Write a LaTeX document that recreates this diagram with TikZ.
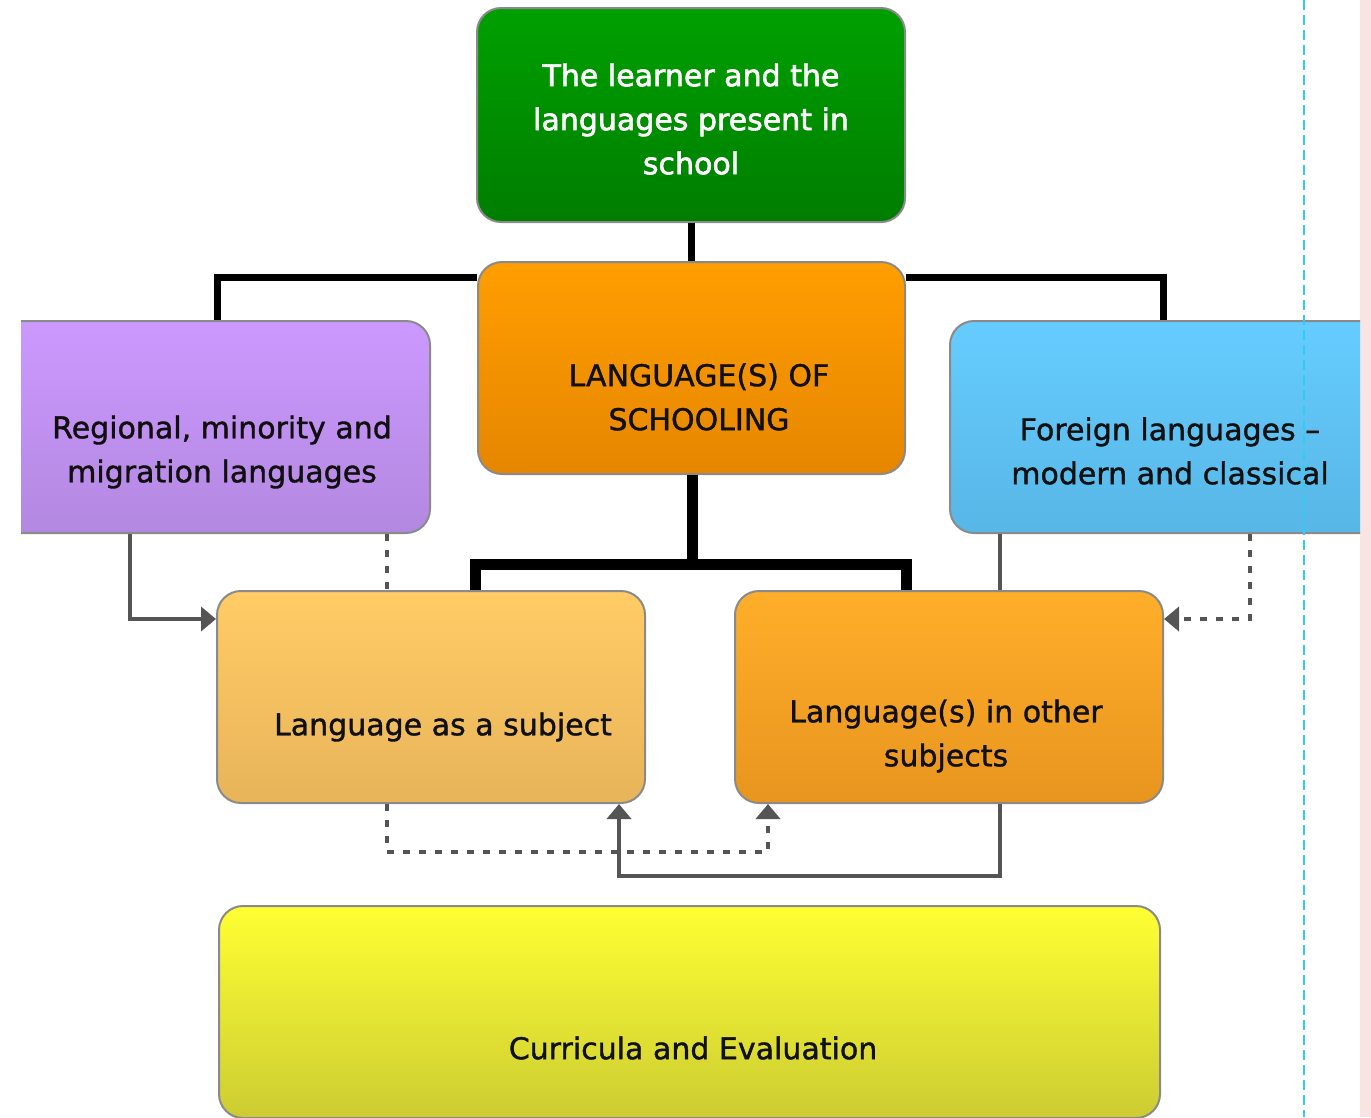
\documentclass[tikz,border=0pt]{standalone}
\usepackage{fontspec}
\setmainfont{DejaVu Sans}
\newfontfamily\boldish[FakeBold=1.2]{DejaVu Sans}
\newfontfamily\heavyish[FakeBold=2]{DejaVu Sans}
\usetikzlibrary{arrows.meta}
\definecolor{gtop}{HTML}{00A000}\definecolor{gbot}{HTML}{007D00}
\definecolor{stop}{HTML}{FF9E00}\definecolor{sbot}{HTML}{E68600}
\definecolor{ptop}{HTML}{CC99FF}\definecolor{pbot}{HTML}{B388E0}
\definecolor{btop}{HTML}{66CCFF}\definecolor{bbot}{HTML}{57B7E6}
\definecolor{ltop}{HTML}{FFCC66}\definecolor{lbot}{HTML}{E8B45A}
\definecolor{otop}{HTML}{FFAE2A}\definecolor{obot}{HTML}{E8951F}
\definecolor{ytop}{HTML}{FFFF33}\definecolor{ybot}{HTML}{CCCC33}
\definecolor{boxline}{HTML}{8A8A8A}
\definecolor{conngray}{HTML}{555555}
\definecolor{guide}{HTML}{33CCEE}
\definecolor{strip}{HTML}{F9E3E3}
\definecolor{txt}{HTML}{101010}
\begin{document}
\begin{tikzpicture}[x=1pt,y=-1pt,
  box/.style={rectangle, rounded corners=24pt, draw=boxline, line width=2pt, inner sep=0pt},
  label/.style={align=center, inner sep=0pt, text=txt, font=\boldish\fontsize{30}{44}\selectfont},
  connA/.style={line width=7pt, black, line join=miter},
  connB/.style={line width=11pt, black, line join=miter},
  gline/.style={line width=4.5pt, conngray, line join=miter},
  gtip/.style={-{Triangle[length=15pt,width=24pt]}},
  gdot/.style={line width=4pt, conngray, dash pattern=on 7pt off 9pt}
]
\useasboundingbox (0,0) rectangle (1371,1117);
\fill[white] (0,0) rectangle (1371,1117);
\fill[strip] (1360,0) rectangle (1371,1117);
\begin{scope}
\clip (21,0) rectangle (1360,1117);
% boxes
\node[box, top color=gtop, bottom color=gbot, minimum width=428pt, minimum height=214pt] (green) at (691,115) {};
\node[box, top color=stop, bottom color=sbot, minimum width=427pt, minimum height=212pt] (school) at (691.5,368) {};
\node[box, top color=ptop, bottom color=pbot, minimum width=470pt, minimum height=212pt] (purple) at (195,427) {};
\node[box, top color=btop, bottom color=bbot, minimum width=450pt, minimum height=212pt] (blue) at (1175,427) {};
\node[box, top color=ltop, bottom color=lbot, minimum width=428pt, minimum height=212pt] (subj) at (431,697) {};
\node[box, top color=otop, bottom color=obot, minimum width=428pt, minimum height=212pt] (other) at (949,697) {};
\node[box, top color=ytop, bottom color=ybot, minimum width=941pt, minimum height=212pt] (yellow) at (689.5,1012) {};
% texts
\node[label, text=white, font=\heavyish\fontsize{30}{44}\selectfont] (greenT) at (691,119) {The learner and the\\languages present in\\school};
\node[label] (schoolT) at (699,397) {LANGUAGE(S) OF\\SCHOOLING};
\node[label] (purpleT) at (222,452) {Regional, minority and\\migration languages};
\node[label] (blueT) at (1170,451) {Foreign languages –\\modern and classical};
\node[label] (subjT) at (443,727) {Language as a subject};
\node[label] (otherT) at (946,736) {Language(s) in other\\subjects};
\node[label] (yellowT) at (693,1048) {Curricula and Evaluation};
% black connectors
\coordinate (jL) at (217,277);
\coordinate (jR) at (1163,277);
\draw[connA] (green.south) -- (school.north -| green.south);
\draw[connA] (school.west |- jL) -- (jL) -- (jL |- purple.north);
\draw[connA] (school.east |- jR) -- (jR) -- (jR |- blue.north);
\coordinate (bar) at (692,564);
\coordinate (bL) at (475,564);
\coordinate (bR) at (906,564);
\draw[connB] (school.south -| bar) -- (bar);
\draw[connB] (bL |- subj.north) -- (bL) -- (bR) -- (bR |- other.north);
% gray connectors
\coordinate (pa) at (130,619);
\draw[gline, gtip] (purple.south -| pa) -- (pa) -- (subj.west |- pa);
\coordinate (pd) at (387,0);
\draw[gdot] (purple.south -| pd) -- (subj.north -| pd);
\coordinate (bs) at (1000,0);
\draw[gline] (blue.south -| bs) -- (other.north -| bs);
\coordinate (ba) at (1250,619);
\draw[gdot, gtip] (blue.south -| ba) -- (ba) -- (other.east |- ba);
\coordinate (sd1) at (387,852);
\coordinate (sd2) at (768,852);
\draw[gdot, gtip] (subj.south -| sd1) -- (sd1) -- (sd2) -- (other.south -| sd2);
\coordinate (os1) at (1000,876);
\coordinate (os2) at (619,876);
\draw[gline, gtip] (other.south -| os1) -- (os1) -- (os2) -- (subj.south -| os2);
\end{scope}
% guide line
\coordinate (gt) at (1304,0);
\coordinate (gb) at (1304,1117);
\draw[guide, line width=2pt, dash pattern=on 10pt off 5pt] (gt) -- (gb);
\end{tikzpicture}
\end{document}
